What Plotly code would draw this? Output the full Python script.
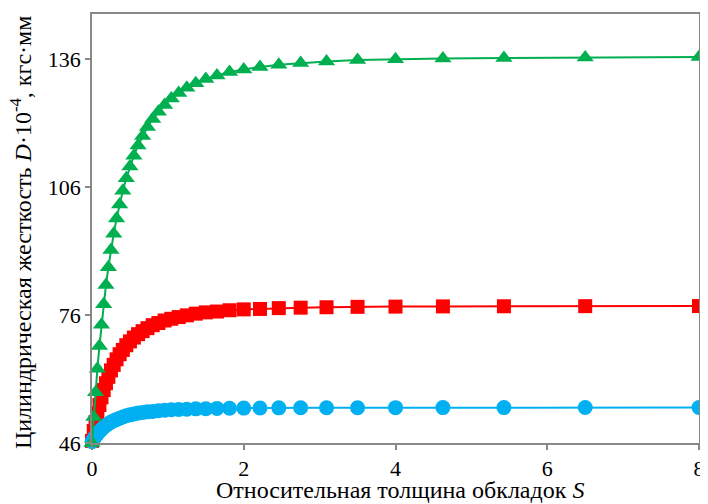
import plotly.graph_objects as go

# Relative facing thickness S (x values)
S = [0.0, 0.023, 0.047, 0.071, 0.098, 0.125, 0.154, 0.184, 0.216, 0.25,
     0.286, 0.324, 0.364, 0.406, 0.452, 0.5, 0.552, 0.607, 0.667, 0.731,
     0.8, 0.875, 0.957, 1.045, 1.143, 1.25, 1.368, 1.5, 1.647, 1.813,
     2.0, 2.214, 2.462, 2.75, 3.091, 3.5, 4.0, 4.625, 5.429, 6.5, 8.0]

# Cylindrical stiffness D·10^-4 (kgf·mm)
green = [46.0, 52.1, 57.9, 63.4, 68.7, 73.7, 78.5, 83.0, 87.2, 91.2,
         95.0, 98.6, 101.9, 105.1, 108.0, 110.8, 113.3, 115.7, 117.9, 120.0,
         121.9, 123.6, 125.2, 126.7, 128.0, 129.2, 130.3, 131.3, 132.1, 132.9,
         133.5, 134.1, 134.6, 135.0, 135.4, 135.7, 135.9, 136.1, 136.2, 136.3, 136.4]

red = [46.5, 48.8, 50.9, 52.9, 54.9, 56.7, 58.4, 60.0, 61.5, 63.0,
       64.3, 65.6, 66.8, 67.8, 68.9, 69.8, 70.7, 71.5, 72.2, 72.9,
       73.6, 74.1, 74.7, 75.1, 75.5, 75.9, 76.3, 76.6, 76.8, 77.1,
       77.3, 77.4, 77.6, 77.7, 77.8, 77.9, 77.95, 78.0, 78.03, 78.06, 78.08]

blue = [46.3, 47.0, 47.6, 48.1, 48.7, 49.2, 49.7, 50.1, 50.5, 50.9,
        51.2, 51.5, 51.8, 52.1, 52.4, 52.6, 52.8, 53.0, 53.15, 53.3,
        53.4, 53.55, 53.7, 53.8, 53.85, 53.9, 54.0, 54.05, 54.1, 54.14,
        54.18, 54.2, 54.23, 54.25, 54.26, 54.27, 54.28, 54.29, 54.29, 54.3, 54.3]

x_ticks = [0, 2, 4, 6, 8]
y_ticks = [46, 76, 106, 136]

fig = go.Figure()
fig.add_trace(go.Scatter(x=S, y=red, mode="lines+markers",
                         line=dict(color="#FF0000", width=2),
                         marker=dict(symbol="square", size=14, color="#FF0000"),
                         cliponaxis=False))
fig.add_trace(go.Scatter(x=S, y=blue, mode="lines+markers",
                         line=dict(color="#00B0F0", width=2),
                         marker=dict(symbol="circle", size=15, color="#00B0F0"),
                         cliponaxis=False))
fig.add_trace(go.Scatter(x=S, y=green, mode="lines+markers",
                         line=dict(color="#00B050", width=2),
                         marker=dict(symbol="triangle-up", size=15, color="#00B050"),
                         cliponaxis=False))

axis_common = dict(showgrid=False, zeroline=False, showline=True, linecolor="#888888",
                   linewidth=1.5, mirror=True, ticks="outside", ticklen=5,
                   tickcolor="#888888", tickwidth=1.5, ticklabeloverflow="allow",
                   tickfont=dict(family="Liberation Serif", size=22, color="black"))

fig.update_xaxes(range=[0, 8], tickvals=x_ticks, **axis_common)
fig.update_yaxes(range=[46, 146.5], tickvals=y_ticks, **axis_common)

fig.add_annotation(text="Относительная толщина обкладок <i>S</i>",
                   xref="paper", yref="paper", x=0.507, y=-0.110,
                   xanchor="center", yanchor="middle", showarrow=False,
                   font=dict(family="Liberation Serif", size=24, color="black"))
fig.add_annotation(text="Цилиндрическая жесткость <i>D</i>·10<sup>-4</sup>, кгс·мм",
                   xref="paper", yref="paper", x=-0.118, y=-0.018,
                   xanchor="center", yanchor="bottom", textangle=-90, showarrow=False,
                   font=dict(family="Liberation Serif", size=24, color="black"))

# page body has an 8px margin, so the figure is offset by (8, 8) in the window
fig.update_layout(width=700, height=496, showlegend=False,
                  margin=dict(l=84, r=3, t=6, b=61),
                  plot_bgcolor="white", paper_bgcolor="white")

fig.write_html("out.html")
